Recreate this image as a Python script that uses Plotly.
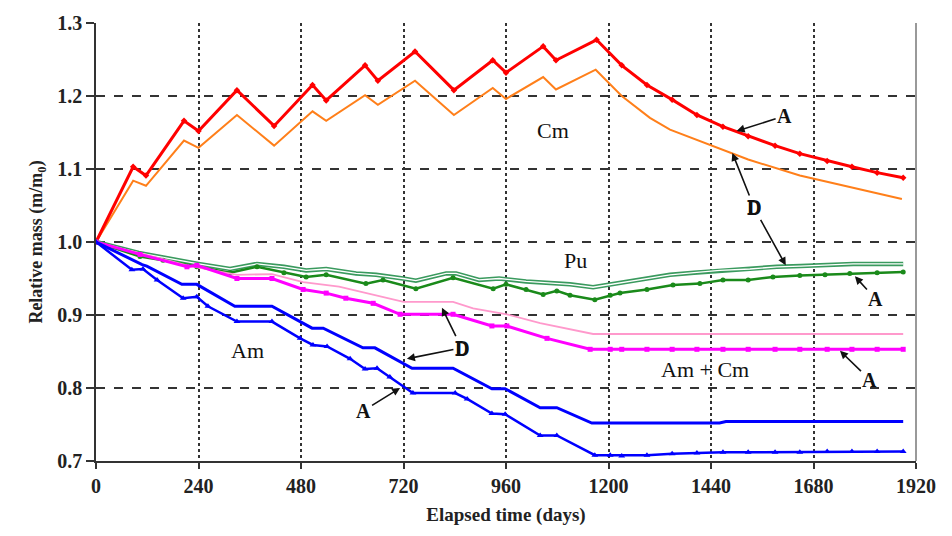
import plotly.graph_objects as go

# ---------------- data ----------------
cm_a_days = [0, 87, 117, 206, 240, 330, 417, 507, 539, 630, 660, 747, 838, 929, 960, 1047, 1077, 1172,
             1231, 1290, 1349, 1407, 1468, 1527, 1590, 1648, 1712, 1770, 1829, 1890]
cm_a_vals = [1.0, 1.103, 1.091, 1.166, 1.152, 1.208, 1.159, 1.215, 1.194, 1.242, 1.221, 1.261, 1.208, 1.249,
             1.232, 1.268, 1.249, 1.277,
             1.242, 1.215, 1.195, 1.174, 1.158, 1.145, 1.132, 1.121, 1.111, 1.103, 1.095, 1.088]

cm_d_days = [0, 87, 117, 206, 240, 330, 417, 507, 539, 630, 660, 747, 838, 929, 960, 1047, 1077, 1170,
             1231, 1297, 1344, 1438, 1527, 1648, 1765, 1887]
cm_d_vals = [1.0, 1.084, 1.077, 1.139, 1.129, 1.174, 1.132, 1.179, 1.166, 1.201, 1.188, 1.221, 1.174, 1.211,
             1.196, 1.226, 1.209, 1.236,
             1.200, 1.170, 1.154, 1.133, 1.113, 1.091, 1.075, 1.059]

pu_d_days = [0, 100, 240, 314, 377, 440, 492, 539, 609, 656, 719, 749, 820, 843, 897, 944, 1007, 1110, 1164,
             1204, 1280, 1344, 1400, 1461, 1531, 1594, 1650, 1712, 1773, 1830, 1890]
pu_d_vals = [1.0, 0.985, 0.970, 0.963, 0.970, 0.966, 0.961, 0.963, 0.957, 0.955, 0.950, 0.947, 0.957, 0.957,
             0.948, 0.950, 0.946, 0.942, 0.938, 0.942, 0.949, 0.955, 0.958, 0.961, 0.963, 0.966, 0.967, 0.969,
             0.970, 0.970, 0.970]

pu_a_days = [0, 103, 157, 236, 314, 377, 440, 492, 539, 632, 672, 749, 836, 930, 960, 1007, 1047, 1079, 1110,
             1168, 1204, 1227, 1290, 1351, 1414, 1468, 1527, 1585, 1648, 1707, 1765, 1829, 1890]
pu_a_vals = [1.0, 0.980, 0.975, 0.966, 0.958, 0.966, 0.958, 0.952, 0.955, 0.943, 0.948, 0.936, 0.951, 0.936,
             0.942, 0.935, 0.928, 0.933, 0.927, 0.921, 0.927, 0.930, 0.935, 0.941, 0.943, 0.948, 0.948, 0.952,
             0.954, 0.955, 0.957, 0.958, 0.959]

amcm_d_days = [0, 100, 213, 330, 412, 485, 569, 720, 836, 883, 962, 1040, 1164, 1890]
amcm_d_vals = [1.0, 0.985, 0.968, 0.955, 0.956, 0.945, 0.939, 0.918, 0.918, 0.909, 0.901, 0.889, 0.874, 0.874]

amcm_a_days = [0, 103, 213, 236, 330, 412, 485, 539, 585, 649, 712, 836, 927, 962, 1056, 1157, 1204,
               1231, 1290, 1349, 1407, 1468, 1527, 1590, 1648, 1712, 1770, 1829, 1890]
amcm_a_vals = [1.0, 0.983, 0.966, 0.968, 0.950, 0.950, 0.935, 0.930, 0.923, 0.916, 0.901, 0.901, 0.885, 0.885,
               0.868, 0.853, 0.853,
               0.853, 0.853, 0.853, 0.853, 0.853, 0.853, 0.853, 0.853, 0.853, 0.853, 0.853, 0.853]

am_d_days = [0, 108, 119, 201, 236, 325, 412, 506, 532, 625, 653, 740, 836, 927, 958, 1040, 1079, 1161, 1204,
             1460, 1475, 1890]
am_d_vals = [1.0, 0.969, 0.967, 0.942, 0.942, 0.912, 0.912, 0.882, 0.882, 0.855, 0.855, 0.827, 0.827, 0.799,
             0.799, 0.773, 0.773, 0.752, 0.752, 0.752, 0.754, 0.754]

am_a_days = [0, 84, 110, 143, 204, 236, 262, 330, 412, 478, 508, 541, 595, 630, 658, 688, 742, 841, 869, 927,
             958, 1040, 1079, 1168, 1204, 1231, 1290, 1349, 1407, 1468, 1527, 1590, 1648, 1712, 1770, 1829, 1890]
am_a_vals = [1.0, 0.962, 0.963, 0.948, 0.923, 0.925, 0.912, 0.891, 0.891, 0.868, 0.859, 0.857, 0.840, 0.826,
             0.827, 0.815, 0.793, 0.793, 0.785, 0.765, 0.764, 0.735, 0.735, 0.708, 0.708,
             0.707, 0.708, 0.710, 0.711, 0.712, 0.712, 0.712, 0.712, 0.713, 0.713, 0.713, 0.713]

x_ticks = [0, 240, 480, 720, 960, 1200, 1440, 1680, 1920]
y_ticks = [0.7, 0.8, 0.9, 1.0, 1.1, 1.2, 1.3]

SERIF = "Liberation Serif"

fig = go.Figure()


def add(x, y, color, width, symbol=None, msize=5):
    fig.add_trace(go.Scatter(
        x=x, y=y,
        mode="lines+markers" if symbol else "lines",
        line=dict(color=color, width=width),
        marker=dict(symbol=symbol or "circle", size=msize, color=color),
        showlegend=False, hoverinfo="skip"))


# Cm
add(cm_d_days, cm_d_vals, "#ff7f1a", 2)
add(cm_a_days, cm_a_vals, "#ff0000", 3, "diamond", 5)
# Pu (D is a hollow / outlined line)
add(pu_d_days, pu_d_vals, "#3a9a5e", 4.5)
add(pu_d_days, pu_d_vals, "#ffffff", 1.3)
add(pu_a_days, pu_a_vals, "#1a8a1a", 2.5, "circle", 5)
# Am + Cm
add(amcm_d_days, amcm_d_vals, "#ff99cc", 1.8)
add(amcm_a_days, amcm_a_vals, "#ff00ff", 3, "square", 5)
# Am
add(am_d_days, am_d_vals, "#0000ff", 3)
add(am_a_days, am_a_vals, "#0000ff", 2.5, "triangle-up", 6)

# text labels
for txt, xd, yd in [("Cm", 1070, 1.153), ("Pu", 1122, 0.974), ("Am", 354, 0.852), ("Am + Cm", 1426, 0.825)]:
    fig.add_annotation(x=xd, y=yd, text=txt, showarrow=False,
                       font=dict(family=SERIF, size=22, color="#111"))

# arrow labels: (text, tip day, tip value, ax, ay)
arrows = [
    ("A", 1500, 1.152, 48, -15),
    ("D", 1490, 1.122, 22, 55),
    ("D", 1615, 0.968, -32, -58),
    ("A", 1777, 0.953, 21, 23),
    ("A", 1742, 0.851, 30, 29),
    ("D", 810, 0.910, 20, 41),
    ("D", 728, 0.840, 55, -11),
    ("A", 712, 0.800, -37, 23),
]
for txt, xd, yd, ax, ay in arrows:
    fig.add_annotation(x=xd, y=yd, ax=ax, ay=ay, text=txt, showarrow=True,
                       arrowhead=2, arrowsize=1, arrowwidth=1.6, arrowcolor="#111",
                       font=dict(family=SERIF, size=20, color="#111", weight="bold"))

# right border
fig.add_shape(type="line", xref="paper", yref="paper", x0=1, x1=1, y0=0, y1=1,
              line=dict(color="#777", width=1.5))

axis_font = dict(family=SERIF, size=20, color="#222", weight="bold")
fig.update_layout(
    width=952, height=536,
    margin=dict(l=96, r=36, t=19, b=75),
    paper_bgcolor="white", plot_bgcolor="white",
    xaxis=dict(range=[0, 1920], tickvals=x_ticks, ticktext=[str(v) for v in x_ticks],
               showgrid=True, gridcolor="#333", griddash="dot", gridwidth=1.5,
               showline=True, linecolor="#333", linewidth=1.5, zeroline=False,
               ticks="outside", ticklen=6, tickcolor="#333", tickwidth=1.5,
               tickfont=axis_font,
               title=dict(text="Elapsed time (days)", standoff=12,
                          font=dict(family=SERIF, size=19, color="#222", weight="bold"))),
    yaxis=dict(range=[0.7, 1.3], tickvals=y_ticks, ticktext=[f"{v:.1f}" for v in y_ticks],
               showgrid=True, gridcolor="#333", griddash="dash", gridwidth=1.5,
               showline=True, linecolor="#333", linewidth=1.5, zeroline=False,
               ticks="outside", ticklen=8, tickcolor="#333", tickwidth=1.5,
               tickfont=axis_font,
               title=dict(text="Relative mass (m/m<sub>0</sub>)", standoff=10,
                          font=dict(family=SERIF, size=18, color="#222", weight="bold"))),
)

fig.write_html("out.html")
